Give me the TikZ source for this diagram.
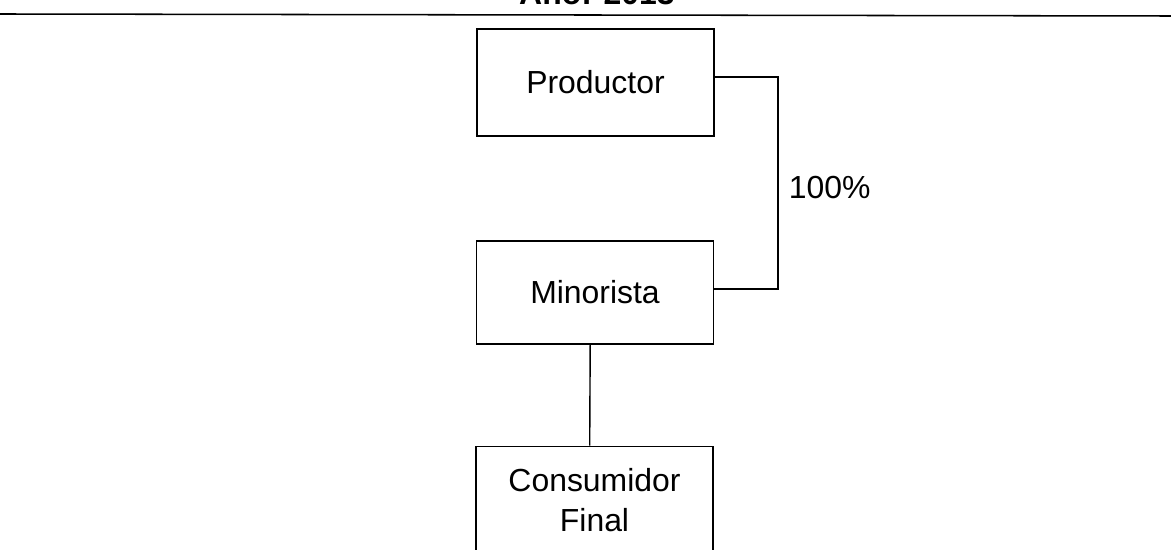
\documentclass[tikz,border=0pt]{standalone}
\usepackage{fontspec}
\setmainfont{Liberation Sans}
\begin{document}
\begin{tikzpicture}[x=0.025cm,y=-0.025cm]
	\tikzstyle{every node}=[font=\fontsize{22.7}{28.4}\selectfont]
	\tikzstyle{caja}=[draw, line width=1.1pt, minimum width=5.925cm, minimum height=2.675cm, align=center]
	\useasboundingbox (0,0) rectangle (1171,550);
	\path (597,5) node[anchor=base, font=\fontsize{22.7}{28.4}\selectfont\bfseries] (titulo) {Año: 2013}
	      (595.5,82.5) node[caja] (prod) {Productor}
	      (595,292.5) node[caja, minimum height=2.575cm] (mino) {Minorista}
	      (594.5,500) node[caja] (cons) {Consumidor\\Final};
	\coordinate (esq) at (778,188);
	\draw[line width=1.1pt] (0,14) -- (1171,16);
	\draw[line width=1.1pt] ([yshift=0.14cm]prod.east) -| (esq) |- ([yshift=0.09cm]mino.east);
	\draw[line width=1pt] ([xshift=-0.12cm]mino.south) -- ([xshift=-0.12cm]cons.north);
	\path (esq) node[anchor=west, xshift=0.15cm] (pct) {100\%};
\end{tikzpicture}
\end{document}
